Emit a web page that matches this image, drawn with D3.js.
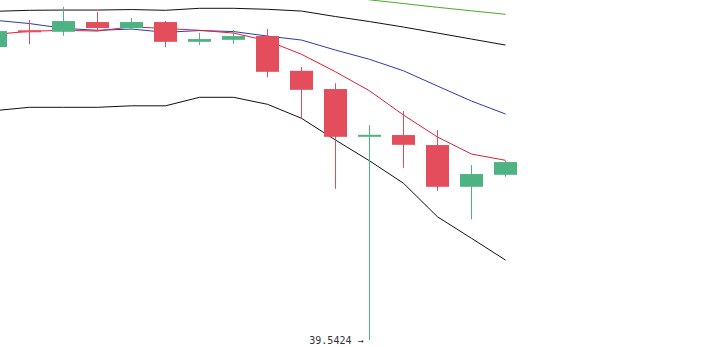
<!DOCTYPE html>
<html>
<head>
<meta charset="utf-8">
<script src="https://cdn.jsdelivr.net/npm/d3@7"></script>
<style>
  html, body { margin: 0; padding: 0; background: #fff; }
  svg { display: block; }
</style>
</head>
<body>
<div id="chart"><svg width="715" height="347"></svg></div>
<script>
// candles: open / high / low / close
var opens  = [51.26, 51.93, 51.87, 52.26, 52.02, 52.26, 51.47, 51.55, 51.70, 50.31, 49.58, 47.67, 47.74, 47.34, 45.67, 46.15];
var highs  = [51.98, 52.34, 52.87, 52.67, 52.42, 52.31, 51.83, 51.94, 51.98, 50.46, 49.81, 48.14, 48.70, 47.94, 46.54, 46.70];
var lows   = [51.18, 51.37, 51.71, 51.90, 51.95, 51.25, 51.34, 51.39, 50.05, 48.42, 45.59, 39.5424, 46.43, 45.51, 44.37, 46.07];
var closes = [51.90, 51.86, 52.30, 52.02, 52.26, 51.47, 51.58, 51.70, 50.27, 49.55, 47.67, 47.75, 47.35, 45.67, 46.18, 46.66];

// indicator lines
var upperBand = [52.69, 52.73, 52.74, 52.74, 52.76, 52.73, 52.81, 52.81, 52.77, 52.70, 52.48, 52.28, 52.06, 51.82, 51.58, 51.34];
var lowerBand = [48.72, 48.85, 48.85, 48.85, 48.91, 48.91, 49.25, 49.25, 48.97, 48.41, 47.54, 46.71, 45.81, 44.47, 43.61, 42.74];
var slowMA    = [52.33, 52.20, 52.01, 51.93, 51.98, 51.85, 51.92, 51.88, 51.70, 51.54, 51.14, 50.77, 50.31, 49.70, 49.10, 48.58];
var fastMA    = [51.77, 51.89, 51.93, 51.90, 52.07, 52.00, 51.93, 51.82, 51.51, 50.97, 50.27, 49.51, 48.54, 47.66, 46.98, 46.73];
var longMA    = [null, null, null, null, null, null, null, null, null, null, 53.32, 53.15, 53.00, 52.85, 52.71, 52.57];

var svg = d3.select("#chart").select("svg");

var upColor = "#4db382",
    downColor = "#e34d5c";

var x = d3.scaleLinear().domain([0, 15]).range([-4.5, 505.5]);
var y = d3.scaleLinear().domain([39.5424, 53.1424]).range([340, 0]);

var idx = d3.range(opens.length);
var bodyW = 23;

function candleColor(i) {
    return closes[i] >= opens[i] ? upColor : downColor;
}

// lines first, candles on top
var lines = [
    { data: upperBand, color: "#111" },
    { data: lowerBand, color: "#111" },
    { data: slowMA, color: "#2b3bb0" },
    { data: fastMA, color: "#e0202f" },
    { data: longMA, color: "#4aa82c" }
];

var line = d3.line()
    .defined(function(d) { return d != null; })
    .x(function(d, i) { return x(i); })
    .y(function(d) { return y(d); });

svg.append("g")
    .selectAll("path")
    .data(lines)
    .enter()
    .append("path")
    .attr("d", function(d) { return line(d.data); })
    .attr("fill", "none")
    .attr("stroke", function(d) { return d.color; })
    .attr("stroke-width", 1);

var candles = svg.append("g")
    .selectAll("g")
    .data(idx)
    .enter()
    .append("g");

// wicks
candles.append("rect")
    .attr("x", function(i) { return x(i) - 0.5; })
    .attr("width", 1)
    .attr("y", function(i) { return y(highs[i]); })
    .attr("height", function(i) { return y(lows[i]) - y(highs[i]); })
    .attr("fill", candleColor);

// bodies
candles.append("rect")
    .attr("x", function(i) { return x(i) - bodyW / 2; })
    .attr("width", bodyW)
    .attr("y", function(i) { return y(Math.max(opens[i], closes[i])); })
    .attr("height", function(i) {
        return Math.max(2, Math.abs(y(opens[i]) - y(closes[i])));
    })
    .attr("fill", candleColor);

// label for the lowest low
var minI = d3.minIndex(lows);
svg.append("text")
    .attr("x", x(minI) - 6)
    .attr("y", y(lows[minI]) + 3.5)
    .attr("text-anchor", "end")
    .style("font-family", "'DejaVu Sans Mono', monospace")
    .style("font-size", "10px")
    .attr("fill", "#333")
    .text(lows[minI].toFixed(4) + " \u2192");
</script>
</body>
</html>
